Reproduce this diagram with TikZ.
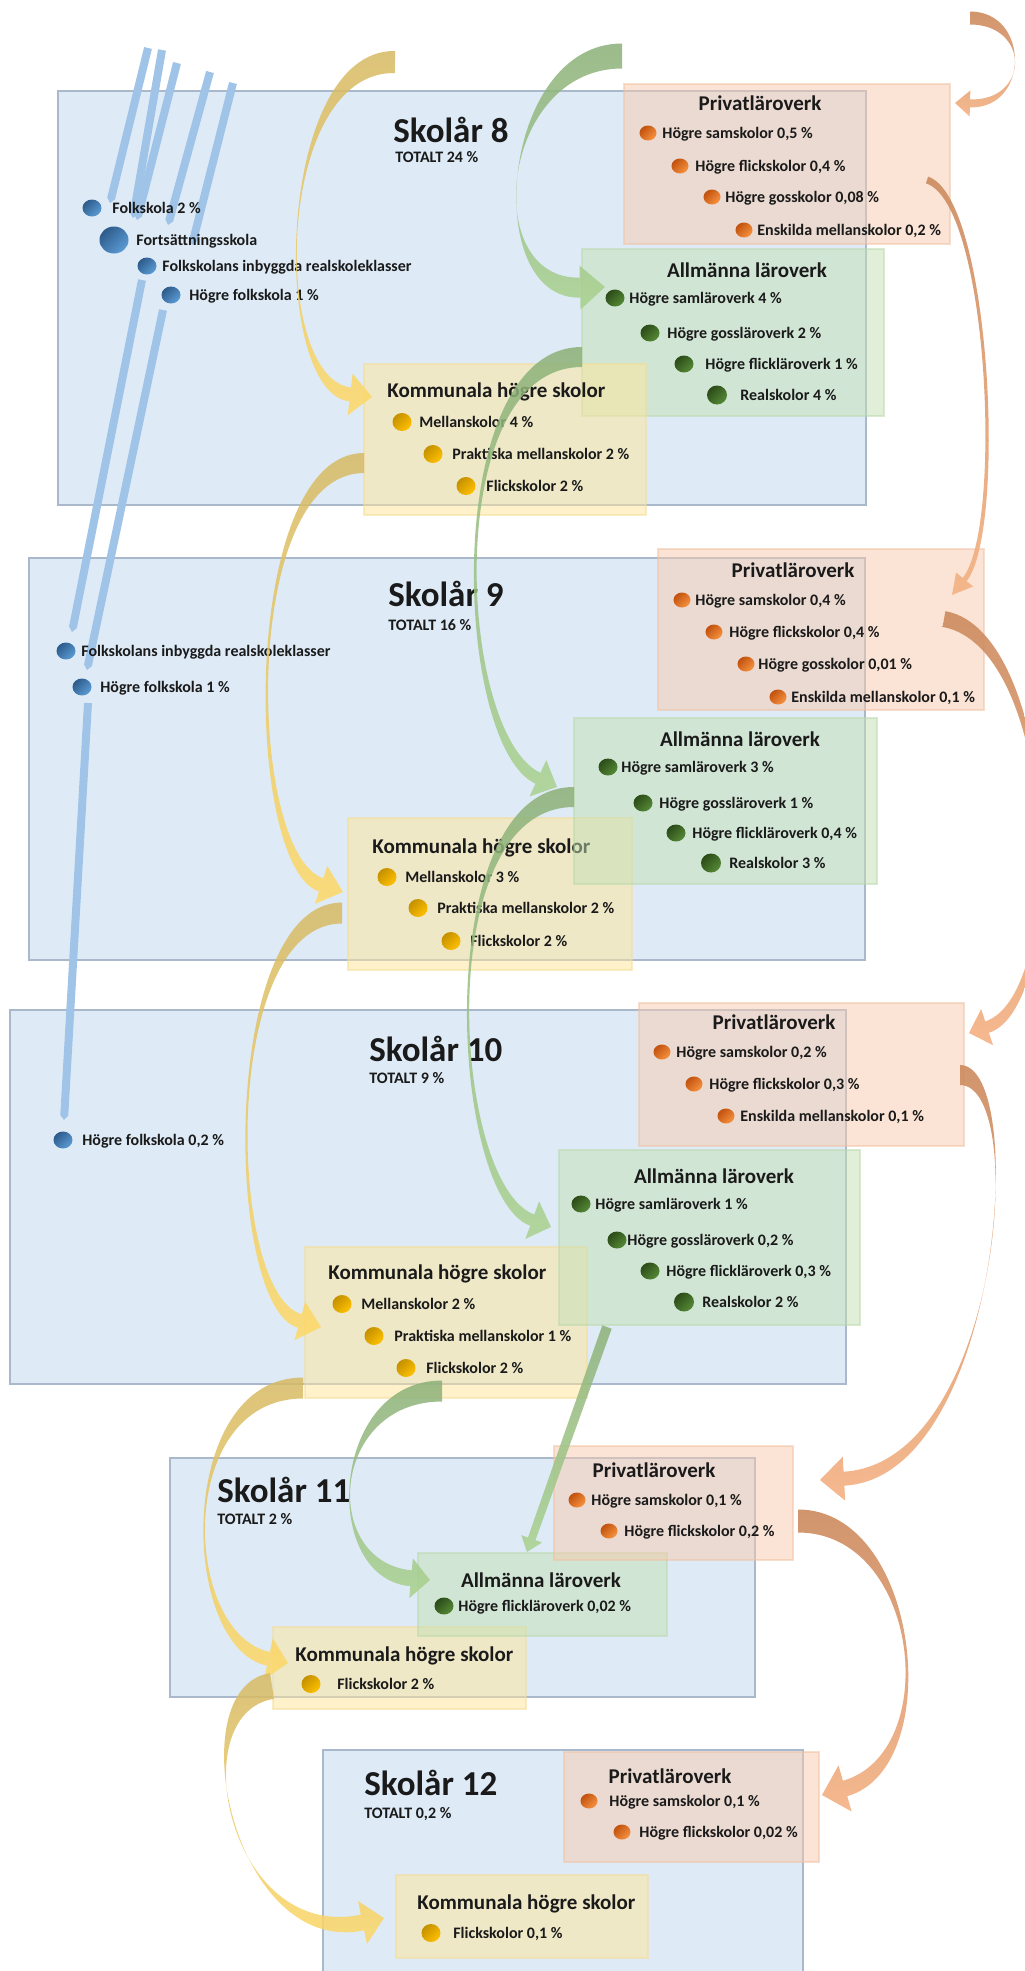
\documentclass[tikz,border=0pt]{standalone}
\usepackage{fontspec}
\setmainfont{Carlito}
\usetikzlibrary{calc,arrows.meta,shapes.geometric}
\definecolor{bgblue}{HTML}{DEEBF7}
\definecolor{bdblue}{HTML}{AAB8CC}
\definecolor{pfill}{HTML}{F8CBAD}
\definecolor{afill}{HTML}{C5E0B4}
\definecolor{kfill}{HTML}{FFE699}
\definecolor{pedge}{HTML}{F0C0A0}
\definecolor{aedge}{HTML}{B8D8A8}
\definecolor{kedge}{HTML}{F5DC90}
\definecolor{barblue}{HTML}{9FC4E8}
\definecolor{txt}{HTML}{1A1A1A}
\definecolor{dbD}{HTML}{2D5B8A}\definecolor{dbL}{HTML}{5B9BD5}
\definecolor{doD}{HTML}{C0510E}\definecolor{doL}{HTML}{F7923F}
\definecolor{dgD}{HTML}{2B4A18}\definecolor{dgL}{HTML}{558A36}
\definecolor{dyD}{HTML}{C49000}\definecolor{dyL}{HTML}{FFC000}
\definecolor{ayT}{HTML}{D6B963}\definecolor{ayB}{HTML}{FFD966}
\definecolor{agT}{HTML}{8CB078}\definecolor{agB}{HTML}{A9D18E}
\definecolor{aoT}{HTML}{CC8A5E}\definecolor{aoB}{HTML}{F4B183}
\tikzset{
  boxbase/.style={inner sep=0pt,outer sep=0pt,anchor=north west,line width=0.6pt},
  yearbox/.style={boxbase,fill=bgblue,draw=bdblue},
  pbox/.style={boxbase,fill=pfill,fill opacity=0.5,draw=pedge,draw opacity=0.5},
  abox/.style={boxbase,fill=afill,fill opacity=0.5,draw=aedge,draw opacity=0.5},
  kbox/.style={boxbase,fill=kfill,fill opacity=0.5,draw=kedge,draw opacity=0.5},
  yeartitle/.style={anchor=base west,inner sep=0pt,text=txt,font=\fontsize{17.5pt}{20pt}\selectfont\bfseries},
  totaltext/.style={anchor=base west,inner sep=0pt,text=txt,font=\fontsize{8pt}{10pt}\selectfont\bfseries},
  itemtext/.style={anchor=base west,inner sep=0pt,text=txt,font=\fontsize{8pt}{10pt}\selectfont\bfseries},
  boxtitle/.style={anchor=base,inner sep=0pt,text=txt,font=\fontsize{10.5pt}{12pt}\selectfont\bfseries},
  ktitle/.style={boxtitle,anchor=base west},
  dotbase/.style={ellipse,inner sep=0pt,outer sep=0pt,minimum width=9.5pt,minimum height=8.5pt},
  bdot/.style={dotbase,top color=dbD,bottom color=dbL,shading angle=45},
  bdotL/.style={bdot,minimum width=14.5pt,minimum height=13.5pt},
  odot/.style={dotbase,minimum width=8.5pt,minimum height=7.5pt,top color=doD,bottom color=doL,shading angle=45},
  gdot/.style={dotbase,top color=dgD,bottom color=dgL,shading angle=45},
  gdotL/.style={gdot,minimum width=10pt,minimum height=9.5pt},
  ydot/.style={dotbase,minimum height=9pt,top color=dyD,bottom color=dyL,shading angle=45},
  bluebar/.style={draw=barblue,line width=4pt,-{Triangle[width=4pt,length=2.5pt]}},
  yarr/.style={top color=ayT,bottom color=ayB,opacity=0.85},
  garr/.style={top color=agT,bottom color=agB,opacity=0.85},
  oarr/.style={top color=aoT,bottom color=aoB,opacity=0.9}
}
\newcommand\bx[6]{\node[#2,minimum width={(#5-#3)*0.5pt},minimum height={(#6-#4)*0.5pt}] (#1) at (#3,#4) {};}
\newcommand\itm[6]{\node[#2] (#1d) at (#3,#4) {}; \node[itemtext] (#1t) at (#5,{#4+5}) {#6};}
% curved block arrow: style, tail, ctrl1, ctrl2, tip, half tail width, half neck width, half head width, head length
\newcommand\crarrow[9]{%
  \coordinate (tmpB) at ($(#5)!#9!(#4)$);
  \path[#1] ($(#2)!#6!90:(#3)$) .. controls ($(#3)!#6!-90:(#2)$) and ($(#4)!#7!90:(tmpB)$) .. ($(tmpB)!#7!-90:(#4)$)
    -- ($(tmpB)!#8!-90:(#4)$) -- (#5) -- ($(tmpB)!#8!90:(#4)$) -- ($(tmpB)!#7!90:(#4)$)
    .. controls ($(#4)!#7!-90:(tmpB)$) and ($(#3)!#6!90:(#2)$) .. ($(#2)!#6!-90:(#3)$) -- cycle;}
% straight block arrow: style, tail, tip, half tail, half neck, half head, head length
\newcommand\strarrow[7]{%
  \coordinate (tmpB) at ($(#3)!#7!(#2)$);
  \path[#1] ($(#2)!#4!90:(#3)$) -- ($(tmpB)!#5!-90:(#2)$) -- ($(tmpB)!#6!-90:(#2)$) -- (#3)
    -- ($(tmpB)!#6!90:(#2)$) -- ($(tmpB)!#5!90:(#2)$) -- ($(#2)!#4!-90:(#3)$) -- cycle;}
\begin{document}
\begin{tikzpicture}[x=0.5pt,y=-0.5pt]
\useasboundingbox (0,0) rectangle (1024,1971);
\fill[white] (0,0) rectangle (1024,1971);

% ---- year boxes
\bx{y8}{yearbox}{58}{91}{866}{505}
\bx{y9}{yearbox}{29}{558}{865}{960}
\bx{y10}{yearbox}{10}{1010}{846}{1384}
\bx{y11}{yearbox}{170}{1458}{755}{1697}
\bx{y12}{yearbox}{323}{1750}{803}{1990}
\node[yeartitle] (y8h) at (393,142) {Skolår 8};
\node[totaltext] (y8s) at (395,162) {TOTALT 24 \%};
\node[yeartitle] (y9h) at (388,606) {Skolår 9};
\node[totaltext] (y9s) at (388,630) {TOTALT 16 \%};
\node[yeartitle] (y10h) at (369,1061) {Skolår 10};
\node[totaltext] (y10s) at (369,1083) {TOTALT 9 \%};
\node[yeartitle] (y11h) at (217,1502) {Skolår 11};
\node[totaltext] (y11s) at (217,1524) {TOTALT 2 \%};
\node[yeartitle] (y12h) at (364,1795) {Skolår 12};
\node[totaltext] (y12s) at (364,1818) {TOTALT 0,2 \%};

% ---- blue bars
\coordinate (ba0) at (148,48);  \coordinate (ba1) at (110,203);
\coordinate (bb0) at (162,50);  \coordinate (bb1) at (133,218);
\coordinate (bc0) at (177,63);  \coordinate (bc1) at (137,220);
\coordinate (bd0) at (210,72);  \coordinate (bd1) at (168,225);
\coordinate (be0) at (233,83);  \coordinate (be1) at (192,245);
\coordinate (bf0) at (142,280); \coordinate (bf1) at (72,632);
\coordinate (bg0) at (163,310); \coordinate (bg1) at (87,670);
\coordinate (bh0) at (88,703);  \coordinate (bh1) at (64,1120);
\draw[bluebar] (ba0) -- (ba1);
\draw[bluebar] (bb0) -- (bb1);
\draw[bluebar] (bc0) -- (bc1);
\draw[bluebar] (bd0) -- (bd1);
\draw[bluebar] (be0) -- (be1);
\draw[bluebar] (bf0) -- (bf1);
\draw[bluebar] (bg0) -- (bg1);
\draw[bluebar] (bh0) -- (bh1);

% ---- blue items
\itm{f8a}{bdot}{92}{208}{112}{Folkskola 2 \%}
\itm{f8b}{bdotL}{114}{240}{136}{Fortsättningsskola}
\itm{f8c}{bdot}{147}{266}{162}{Folkskolans inbyggda realskoleklasser}
\itm{f8d}{bdot}{171}{295}{189}{Högre folkskola 1 \%}
\itm{f9a}{bdot}{66}{651}{81}{Folkskolans inbyggda realskoleklasser}
\itm{f9b}{bdot}{82}{687}{100}{Högre folkskola 1 \%}
\itm{f10a}{bdot}{63}{1140}{82}{Högre folkskola 0,2 \%}

% ---- Skolår 8
\bx{a8}{abox}{582}{249}{884}{416}
\node[boxtitle] (a8h) at (747,277) {Allmänna läroverk};
\itm{a8a}{gdot}{615}{298}{629}{Högre samläroverk 4 \%}
\itm{a8b}{gdot}{650}{333}{667}{Högre gossläroverk 2 \%}
\itm{a8c}{gdot}{684}{364}{705}{Högre flickläroverk 1 \%}
\itm{a8d}{gdotL}{717}{395}{740}{Realskolor 4 \%}
\bx{k8}{kbox}{364}{364}{646}{515}
\node[ktitle] (k8h) at (387,397) {Kommunala högre skolor};
\itm{k8a}{ydot}{402}{422}{419}{Mellanskolor 4 \%}
\itm{k8b}{ydot}{433}{454}{452}{Praktiska mellanskolor 2 \%}
\itm{k8c}{ydot}{466}{486}{486}{Flickskolor 2 \%}
\bx{p8}{pbox}{624}{84}{950}{244}
\node[boxtitle] (p8h) at (760,110) {Privatläroverk};
\itm{p8a}{odot}{648}{133}{662}{Högre samskolor 0,5 \%}
\itm{p8b}{odot}{680}{166}{695}{Högre flickskolor 0,4 \%}
\itm{p8c}{odot}{712}{197}{725}{Högre gosskolor 0,08 \%}
\itm{p8d}{odot}{744}{230}{757}{Enskilda mellanskolor 0,2 \%}

% ---- Skolår 9
\bx{k9}{kbox}{348}{818}{632}{970}
\node[ktitle] (k9h) at (372,853) {Kommunala högre skolor};
\itm{k9a}{ydot}{387}{877}{405}{Mellanskolor 3 \%}
\itm{k9b}{ydot}{418}{908}{437}{Praktiska mellanskolor 2 \%}
\itm{k9c}{ydot}{451}{941}{470}{Flickskolor 2 \%}
\bx{a9}{abox}{574}{718}{877}{884}
\node[boxtitle] (a9h) at (740,746) {Allmänna läroverk};
\itm{a9a}{gdot}{608}{767}{621}{Högre samläroverk 3 \%}
\itm{a9b}{gdot}{643}{803}{659}{Högre gossläroverk 1 \%}
\itm{a9c}{gdot}{676}{833}{692}{Högre flickläroverk 0,4 \%}
\itm{a9d}{gdotL}{711}{863}{729}{Realskolor 3 \%}
\bx{p9}{pbox}{658}{549}{984}{710}
\node[boxtitle] (p9h) at (793,577) {Privatläroverk};
\itm{p9a}{odot}{682}{600}{695}{Högre samskolor 0,4 \%}
\itm{p9b}{odot}{714}{632}{729}{Högre flickskolor 0,4 \%}
\itm{p9c}{odot}{746}{664}{758}{Högre gosskolor 0,01 \%}
\itm{p9d}{odot}{778}{697}{791}{Enskilda mellanskolor 0,1 \%}

% ---- Skolår 10
\bx{k10}{kbox}{305}{1247}{587}{1398}
\node[ktitle] (k10h) at (328,1279) {Kommunala högre skolor};
\itm{k10a}{ydot}{342}{1304}{361}{Mellanskolor 2 \%}
\itm{k10b}{ydot}{374}{1336}{394}{Praktiska mellanskolor 1 \%}
\itm{k10c}{ydot}{406}{1368}{426}{Flickskolor 2 \%}
\bx{a10}{abox}{559}{1150}{860}{1325}
\node[boxtitle] (a10h) at (714,1183) {Allmänna läroverk};
\itm{a10a}{gdot}{581}{1204}{595}{Högre samläroverk 1 \%}
\itm{a10b}{gdot}{617}{1240}{627}{Högre gossläroverk 0,2 \%}
\itm{a10c}{gdot}{650}{1271}{666}{Högre flickläroverk 0,3 \%}
\itm{a10d}{gdotL}{684}{1302}{702}{Realskolor 2 \%}
\bx{p10}{pbox}{639}{1003}{964}{1146}
\node[boxtitle] (p10h) at (774,1029) {Privatläroverk};
\itm{p10a}{odot}{662}{1052}{676}{Högre samskolor 0,2 \%}
\itm{p10b}{odot}{694}{1084}{709}{Högre flickskolor 0,3 \%}
\itm{p10c}{odot}{726}{1116}{740}{Enskilda mellanskolor 0,1 \%}

% ---- Skolår 11
\bx{k11}{kbox}{273}{1627}{526}{1709}
\node[ktitle] (k11h) at (295,1661) {Kommunala högre skolor};
\itm{k11a}{ydot}{311}{1684}{337}{Flickskolor 2 \%}
\bx{a11}{abox}{418}{1553}{667}{1636}
\node[boxtitle] (a11h) at (541,1587) {Allmänna läroverk};
\itm{a11a}{gdot}{444}{1606}{458}{Högre flickläroverk 0,02 \%}
\bx{p11}{pbox}{554}{1446}{793}{1560}
\node[boxtitle] (p11h) at (654,1477) {Privatläroverk};
\itm{p11a}{odot}{577}{1500}{591}{Högre samskolor 0,1 \%}
\itm{p11b}{odot}{609}{1531}{624}{Högre flickskolor 0,2 \%}

% ---- Skolår 12
\bx{k12}{kbox}{396}{1875}{648}{1958}
\node[ktitle] (k12h) at (417,1909) {Kommunala högre skolor};
\itm{k12a}{ydot}{431}{1933}{453}{Flickskolor 0,1 \%}
\bx{p12}{pbox}{564}{1752}{819}{1862}
\node[boxtitle] (p12h) at (670,1783) {Privatläroverk};
\itm{p12a}{odot}{589}{1801}{609}{Högre samskolor 0,1 \%}
\itm{p12b}{odot}{622}{1832}{639}{Högre flickskolor 0,02 \%}

% ---- yellow arrows (Kommunala)
\coordinate (y1t) at (395,62);   \coordinate (y1a) at (275,60);   \coordinate (y1b) at (270,385);  \coordinate (y1h) at (372,397);
\coordinate (y2t) at (364,463);  \coordinate (y2a) at (240,463);  \coordinate (y2b) at (245,860);  \coordinate (y2h) at (343,892);
\coordinate (y3t) at (342,913);  \coordinate (y3a) at (220,913);  \coordinate (y3b) at (225,1300); \coordinate (y3h) at (321,1327);
\coordinate (y4t) at (303,1388); \coordinate (y4a) at (175,1388); \coordinate (y4b) at (180,1640); \coordinate (y4h) at (288,1663);
\coordinate (y5t) at (272,1686); \coordinate (y5a) at (180,1700); \coordinate (y5b) at (230,1950); \coordinate (y5h) at (384,1918);
\crarrow{yarr}{y1t}{y1a}{y1b}{y1h}{5.5pt}{3.5pt}{10.5pt}{11pt}
\crarrow{yarr}{y2t}{y2a}{y2b}{y2h}{5pt}{3.5pt}{10pt}{11.5pt}
\crarrow{yarr}{y3t}{y3a}{y3b}{y3h}{5.25pt}{3.5pt}{10pt}{11pt}
\crarrow{yarr}{y4t}{y4a}{y4b}{y4h}{5.25pt}{3.5pt}{10.5pt}{10pt}
\crarrow{yarr}{y5t}{y5a}{y5b}{y5h}{6.5pt}{4pt}{11pt}{11pt}

% ---- green arrows (Allmänna)
\coordinate (g1t) at (622,56);   \coordinate (g1a) at (500,56);   \coordinate (g1b) at (480,290);  \coordinate (g1h) at (605,287);
\coordinate (g2t) at (582,357);  \coordinate (g2a) at (440,357);  \coordinate (g2b) at (455,740);  \coordinate (g2h) at (557,787);
\coordinate (g3t) at (574,797);  \coordinate (g3a) at (430,797);  \coordinate (g3b) at (450,1190); \coordinate (g3h) at (551,1227);
\coordinate (g4t) at (442,1391); \coordinate (g4a) at (330,1391); \coordinate (g4b) at (320,1570); \coordinate (g4h) at (430,1580);
\coordinate (g5t) at (607,1327); \coordinate (g5h) at (527,1552);
\crarrow{garr}{g1t}{g1a}{g1b}{g1h}{6.25pt}{5pt}{11pt}{12.5pt}
\crarrow{garr}{g2t}{g2a}{g2b}{g2h}{5pt}{3pt}{10pt}{10.5pt}
\crarrow{garr}{g3t}{g3a}{g3b}{g3h}{5pt}{3pt}{10pt}{10pt}
\crarrow{garr}{g4t}{g4a}{g4b}{g4h}{5.25pt}{4pt}{10pt}{9.5pt}
\strarrow{garr}{g5t}{g5h}{2.5pt}{2pt}{5.5pt}{7pt}

% ---- orange arrows (Privat)
\coordinate (o1t) at (970,18);   \coordinate (o1a) at (1030,18);  \coordinate (o1b) at (1030,105); \coordinate (o1h) at (955,103);
\coordinate (o2t) at (927,180);  \coordinate (o2a) at (990,200);  \coordinate (o2b) at (1005,530); \coordinate (o2h) at (952,595);
\coordinate (o3t) at (944,619);  \coordinate (o3a) at (1060,640); \coordinate (o3b) at (1070,1000);\coordinate (o3h) at (969,1033);
\coordinate (o4t) at (960,1075); \coordinate (o4a) at (1030,1075);\coordinate (o4b) at (1000,1470);\coordinate (o4h) at (820,1480);
\coordinate (o5t) at (798,1521); \coordinate (o5a) at (920,1521); \coordinate (o5b) at (945,1760); \coordinate (o5h) at (822,1795);
\crarrow{oarr}{o1t}{o1a}{o1b}{o1h}{3.25pt}{2pt}{6.5pt}{7.5pt}
\crarrow{oarr}{o2t}{o2a}{o2b}{o2h}{1.75pt}{1.25pt}{5.5pt}{10pt}
\crarrow{oarr}{o3t}{o3a}{o3b}{o3h}{4pt}{3pt}{9.5pt}{9.5pt}
\crarrow{oarr}{o4t}{o4a}{o4b}{o4h}{5pt}{3.5pt}{11pt}{12pt}
\crarrow{oarr}{o5t}{o5a}{o5b}{o5h}{5.75pt}{4pt}{12pt}{12pt}
\end{tikzpicture}
\end{document}
